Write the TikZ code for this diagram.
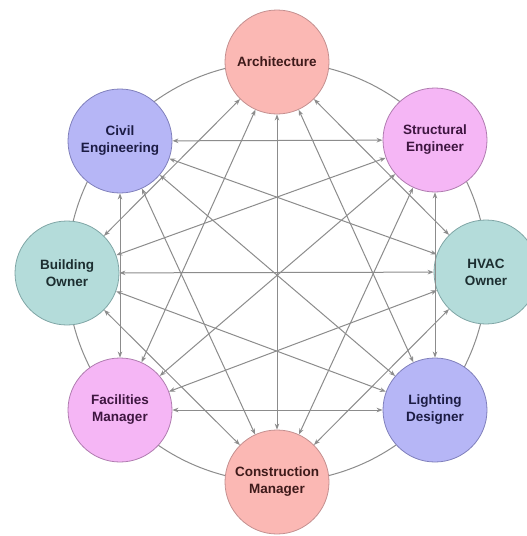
\documentclass[tikz,border=0pt]{standalone}
\usepackage{fontspec}
\setmainfont{Liberation Sans}
\usetikzlibrary{arrows.meta}
\definecolor{linkgray}{HTML}{8C8C8C}
\definecolor{salmonfill}{HTML}{FBB8B4}
\definecolor{salmonline}{HTML}{C49090}
\definecolor{salmontext}{HTML}{3E1A1A}
\definecolor{orchidfill}{HTML}{F5B6F5}
\definecolor{orchidline}{HTML}{B07CB0}
\definecolor{orchidtext}{HTML}{3E1640}
\definecolor{tealfill}{HTML}{B4DCDA}
\definecolor{tealline}{HTML}{80A6A6}
\definecolor{tealtext}{HTML}{1C2E30}
\definecolor{lavfill}{HTML}{B6B6F6}
\definecolor{lavline}{HTML}{8080BC}
\definecolor{lavtext}{HTML}{1C1C44}
\tikzset{
  party/.style={circle, minimum size=104pt, inner sep=0pt, line width=0.8pt,
    align=center, font=\fontsize{13.5}{17}\selectfont\bfseries},
  salmon/.style={party, fill=salmonfill, draw=salmonline, text=salmontext},
  orchid/.style={party, fill=orchidfill, draw=orchidline, text=orchidtext},
  teal/.style={party, fill=tealfill, draw=tealline, text=tealtext},
  lav/.style={party, fill=lavfill, draw=lavline, text=lavtext},
  ringline/.style={draw=linkgray, line width=1pt},
  link/.style={draw=linkgray, line width=1pt,
    {Stealth[length=6pt,width=4.5pt]}-{Stealth[length=6pt,width=4.5pt]}}
}
\begin{document}
\begin{tikzpicture}[x=1pt,y=-1pt]
  % canvas
  \fill[white] (0,0) rectangle (527,536);
  \useasboundingbox (0,0) rectangle (527,536);

  % outer ring joining neighbouring parties
  \coordinate (ctr) at (277,272);
  \draw[ringline] (ctr) circle[radius=210pt];

  % the eight parties
  \node[salmon] (n1) at (277,62)  {Architecture};
  \node[orchid] (n2) at (435,140) {Structural\\Engineer};
  \node[teal]   (n3) at (486,272) {HVAC\\Owner};
  \node[lav]    (n4) at (435,410) {Lighting\\Designer};
  \node[salmon] (n5) at (277,482) {Construction\\Manager};
  \node[orchid] (n6) at (120,410) {Facilities\\Manager};
  \node[teal]   (n7) at (67,273)  {Building\\Owner};
  \node[lav]    (n8) at (120,141) {Civil\\Engineering};

  % two-way links between every non-neighbouring pair
  \foreach \a/\b in {n1/n3,n1/n4,n1/n5,n1/n6,n1/n7,
                     n2/n4,n2/n5,n2/n6,n2/n7,n2/n8,
                     n3/n5,n3/n6,n3/n7,n3/n8,
                     n4/n6,n4/n7,n4/n8,
                     n5/n7,n5/n8,
                     n6/n8}
    \draw[link] (\a) -- (\b);
\end{tikzpicture}
\end{document}
